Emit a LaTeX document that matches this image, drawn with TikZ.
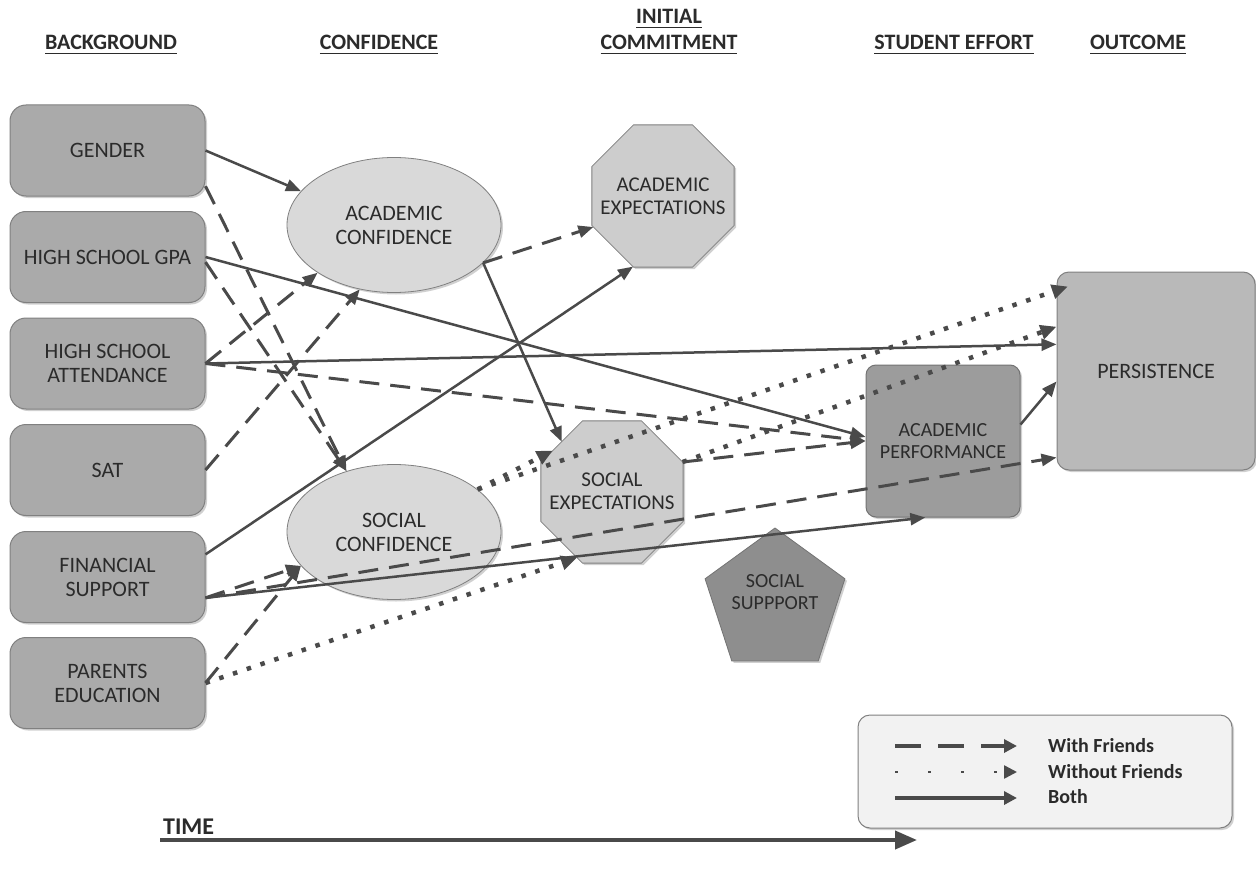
\documentclass[tikz,border=0pt]{standalone}
\usepackage{fontspec}
\setmainfont{Carlito}
\usetikzlibrary{arrows.meta,shapes.geometric,shadows}
\definecolor{arrc}{HTML}{4A4A4A}
\definecolor{txtc}{HTML}{2B2B2B}
\definecolor{boxfill}{HTML}{AAAAAA}
\definecolor{boxline}{HTML}{808080}
\definecolor{ellfill}{HTML}{D9D9D9}
\definecolor{octfill}{HTML}{CDCDCD}
\definecolor{pentfill}{HTML}{8E8E8E}
\definecolor{perffill}{HTML}{9C9C9C}
\definecolor{persfill}{HTML}{B9B9B9}
\definecolor{legfill}{HTML}{F2F2F2}
\newcommand\hdrul[1]{\setbox0=\hbox{#1}\rlap{\rule[-4.5pt]{\wd0}{1.6pt}}\box0}
\newcommand\labfont{\fontsize{22}{24}\selectfont}
\newcommand\labfontb{\fontsize{21}{23}\selectfont}
\newcommand\labfontc{\fontsize{20}{22}\selectfont}
\begin{document}
\begin{tikzpicture}[x=1pt,y=-1pt,
  shad/.style={drop shadow={shadow xshift=2pt,shadow yshift=-2pt,opacity=.3,fill=black!60}},
  bgbox/.style={shad,draw=boxline,fill=boxfill,line width=1pt,rounded corners=16pt,minimum width=195pt,minimum height=91pt,align=center,font=\labfont,text=txtc,inner sep=0pt},
  ellnode/.style={shad,ellipse,draw=boxline,fill=ellfill,line width=0.8pt,minimum width=214pt,minimum height=135pt,align=center,font=\labfont,text=txtc,inner sep=0pt},
  octnode/.style={shad,regular polygon,regular polygon sides=8,draw=boxline,fill=octfill,line width=0.8pt,minimum size=154pt,inner sep=0pt,outer sep=0pt},
  pentnode/.style={shad,regular polygon,regular polygon sides=5,draw=black!55,fill=pentfill,line width=0.8pt,minimum size=147pt,inner sep=0pt,outer sep=0pt},
  shapetxt/.style={align=center,text=txtc,inner sep=0pt},
  perfbox/.style={shad,draw=black!55,fill=perffill,line width=1pt,rounded corners=10pt,minimum width=154pt,minimum height=152pt,align=center,font=\labfontc,text=txtc,inner sep=0pt},
  persbox/.style={shad,draw=boxline,fill=persfill,line width=1pt,rounded corners=12pt,minimum width=198pt,minimum height=198pt,align=center,font=\labfont,text=txtc,inner sep=0pt},
  legbox/.style={shad,draw=boxline,fill=legfill,line width=1pt,rounded corners=12pt,minimum width=374pt,minimum height=113pt,inner sep=0pt},
  hdr/.style={font=\fontsize{22}{24}\selectfont\bfseries,text=txtc,anchor=base,inner sep=0pt},
  legtxt/.style={font=\fontsize{20}{22}\selectfont\bfseries,text=txtc,anchor=west,inner sep=0pt},
  arrbase/.style={draw=arrc,line cap=butt,-{Triangle[length=15pt,width=12pt]}},
  arrboth/.style={arrbase,line width=2.5pt},
  arrwith/.style={arrbase,line width=3pt,dash pattern=on 20pt off 11pt},
  arrwithout/.style={arrbase,line width=4.5pt,dash pattern=on 4.5pt off 10pt,-{Triangle[length=16pt,width=14pt]}}
]
\useasboundingbox (0,0) rectangle (1256,880);
\fill[white] (0,0) rectangle (1256,880);

% headers
\node[hdr] (h1) at (111,50) {\hdrul{BACKGROUND}};
\node[hdr] (h2) at (379,50) {\hdrul{CONFIDENCE}};
\node[hdr] (h3a) at (669,24) {\hdrul{INITIAL}};
\node[hdr] (h3b) at (669,50) {\hdrul{COMMITMENT}};
\node[hdr] (h4) at (954,50) {\hdrul{STUDENT EFFORT}};
\node[hdr] (h5) at (1138,50) {\hdrul{OUTCOME}};

% left boxes
\node[bgbox] (gender) at (107.5,150.5) {GENDER};
\node[bgbox] (gpa) at (107.5,257) {HIGH SCHOOL GPA};
\node[bgbox] (att) at (107.5,363.5) {HIGH SCHOOL\\ATTENDANCE};
\node[bgbox] (sat) at (107.5,470) {SAT};
\node[bgbox] (fin) at (107.5,577) {FINANCIAL\\SUPPORT};
\node[bgbox] (par) at (107.5,683) {PARENTS\\EDUCATION};

% confidence
\node[ellnode] (acconf) at (394,225) {ACADEMIC\\CONFIDENCE};
\node[ellnode] (soconf) at (394,532) {SOCIAL\\CONFIDENCE};

% commitment
\node[octnode] (acexp) at (663,196) {};
\node[shapetxt,font=\labfontb] (acexptext) at (663,196) {ACADEMIC\\EXPECTATIONS};
\node[octnode] (soexp) at (612,492) {};
\node[shapetxt,font=\labfontb] (soexptext) at (612,491) {SOCIAL\\EXPECTATIONS};

% social support
\node[pentnode] (sosup) at (775,601.5) {};
\node[shapetxt,font=\labfontc] (sosuptext) at (775,592) {SOCIAL\\SUPPPORT};

% effort and outcome
\node[perfbox] (perf) at (943,441) {ACADEMIC\\PERFORMANCE};
\node[persbox] (pers) at (1156,371) {PERSISTENCE};

% connectors
\draw[arrboth] (gender.east) -- (acconf.160);
\draw[arrwith] (gender.-20) -- (soconf.128);
\draw[arrwith] (gpa.-3) -- (soconf.128);
\draw[arrboth] (gpa.east) -- (perf.177);
\draw[arrboth] (att.east) -- (pers.165);
\draw[arrwith] (att.east) -- (acconf.212);
\draw[arrwith] (att.east) -- (perf.west);
\draw[arrwith] (sat.east) -- (acconf.242);
\draw[arrboth] (fin.13) -- (acexp.247);
\draw[arrboth] (fin.-12) -- (perf.257);
\draw[arrwith] (fin.-12) -- (soconf.200);
\draw[arrwith] (par.east) -- (soconf.200);
\draw[arrwith] (fin.-12) -- (pers.221);
\draw[arrwithout] (par.east) -- (soexp.242);
\draw[arrwithout] (soconf.27) -- (soexp.145);
\draw[arrwithout,shorten >=-12pt] (soconf.27) -- (pers.141);
\draw[arrwithout] (soexp.23) -- (pers.156);
\draw[arrwith] (soexp.23) -- (perf.west);
\draw[arrwith] (acconf.-23) -- (acexp.204);
\draw[arrboth] (acconf.-23) -- (soexp.135);
\draw[arrboth] (perf.12) -- (pers.186);

% legend
\node[legbox] (legend) at (1045,771.5) {};
\coordinate (lg1a) at (895,746); \coordinate (lg1b) at (1017,746);
\coordinate (lg2a) at (895,772); \coordinate (lg2b) at (1017,772);
\coordinate (lg3a) at (895,798); \coordinate (lg3b) at (1017,798);
\draw[arrbase,line width=3.5pt,dash pattern=on 26pt off 17pt,-{Triangle[length=13pt,width=13pt]}] (lg1a) -- (lg1b);
\draw[arrbase,line width=2.5pt,dash pattern=on 2.5pt off 30.5pt,-{Triangle[length=13pt,width=13pt]}] (lg2a) -- (lg2b);
\draw[arrbase,line width=3.5pt,-{Triangle[length=13pt,width=13pt]}] (lg3a) -- (lg3b);
\node[legtxt] (lt1) at (1048,746) {With Friends};
\node[legtxt] (lt2) at (1048,772) {Without Friends};
\node[legtxt] (lt3) at (1048,797) {Both};

% time
\node[font=\fontsize{24}{26}\selectfont\bfseries,text=txtc,anchor=base west,inner sep=0pt] (timetxt) at (163,834) {TIME};
\coordinate (t0) at (160,840);
\coordinate (t1) at (917,840);
\draw[draw=arrc,line width=4pt,-{Triangle[length=22pt,width=18pt]}] (t0) -- (t1);
\end{tikzpicture}
\end{document}
